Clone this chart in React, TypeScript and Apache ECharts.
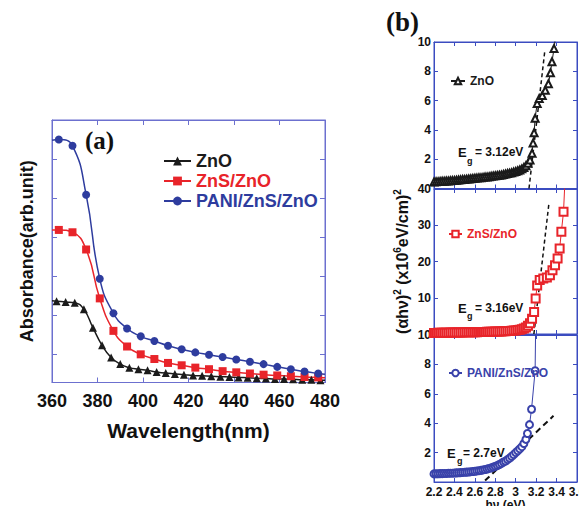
import React, { useEffect, useRef } from 'react';
import * as echarts from 'echarts';

const FONT = '"Liberation Sans", Arial, sans-serif';
const SERIF = '"Liberation Serif", "Times New Roman", serif';

// ---------- Panel (a): absorbance vs wavelength ----------
const wlZnO = [360, 362, 366, 370, 374, 378, 382, 386, 390, 394, 398, 402, 406, 410, 414, 418, 422, 426, 430, 434, 438, 442, 446, 450, 454, 458, 462, 466, 470, 474, 478, 480];
const absZnO = [1.38, 1.37, 1.35, 1.33, 1.16, 0.69, 0.24, -0.07, -0.24, -0.33, -0.37, -0.40, -0.44, -0.47, -0.49, -0.51, -0.53, -0.54, -0.55, -0.56, -0.57, -0.58, -0.59, -0.60, -0.61, -0.62, -0.62, -0.63, -0.64, -0.64, -0.65, -0.65];
const wlShell = [360, 363, 369, 375, 381, 387, 393, 399, 405, 411, 417, 423, 429, 435, 441, 447, 453, 459, 465, 471, 477, 480];
const absZnS = [3.19, 3.19, 3.13, 2.69, 1.44, 0.61, 0.21, 0.01, -0.11, -0.21, -0.27, -0.33, -0.37, -0.42, -0.45, -0.48, -0.51, -0.53, -0.55, -0.57, -0.58, -0.59];
const absPANI = [5.48, 5.50, 5.34, 4.09, 1.94, 1.06, 0.67, 0.47, 0.35, 0.23, 0.14, 0.06, 0.00, -0.06, -0.12, -0.18, -0.24, -0.31, -0.37, -0.43, -0.48, -0.50];
const wlTicks = { min: 360, max: 480, step: 20 };

// ---------- Panel (b): Tauc plots ----------
const evZnO = [2.20, 2.22, 2.24, 2.26, 2.28, 2.30, 2.32, 2.34, 2.36, 2.38, 2.40, 2.42, 2.44, 2.46, 2.48, 2.50, 2.52, 2.54, 2.56, 2.58, 2.60, 2.62, 2.64, 2.66, 2.68, 2.70, 2.72, 2.74, 2.76, 2.78, 2.80, 2.82, 2.84, 2.86, 2.88, 2.90, 2.92, 2.94, 2.96, 2.98, 3.00, 3.02, 3.04, 3.06, 3.08, 3.10, 3.12, 3.14, 3.16, 3.17, 3.18, 3.19, 3.21, 3.23, 3.26, 3.29, 3.32, 3.34, 3.355, 3.375, 3.385];
const taucZnO = [0.45, 0.46, 0.47, 0.48, 0.49, 0.50, 0.51, 0.52, 0.53, 0.54, 0.55, 0.56, 0.58, 0.59, 0.61, 0.62, 0.64, 0.65, 0.67, 0.68, 0.70, 0.71, 0.73, 0.74, 0.76, 0.78, 0.79, 0.81, 0.83, 0.85, 0.87, 0.89, 0.91, 0.93, 0.96, 0.99, 1.02, 1.05, 1.08, 1.12, 1.16, 1.21, 1.27, 1.34, 1.43, 1.55, 1.72, 1.95, 2.4, 3.1, 3.8, 4.8, 5.8, 6.15, 6.35, 6.7, 7.15, 7.9, 8.65, 9.55, 10.1];
const evZnS = [2.20, 2.22, 2.24, 2.26, 2.28, 2.30, 2.32, 2.34, 2.36, 2.38, 2.40, 2.42, 2.44, 2.46, 2.48, 2.50, 2.52, 2.54, 2.56, 2.58, 2.60, 2.62, 2.64, 2.66, 2.68, 2.70, 2.72, 2.74, 2.76, 2.78, 2.80, 2.82, 2.84, 2.86, 2.88, 2.90, 2.92, 2.94, 2.96, 2.98, 3.00, 3.02, 3.04, 3.06, 3.08, 3.10, 3.12, 3.14, 3.16, 3.18, 3.195, 3.21, 3.235, 3.27, 3.305, 3.335, 3.36, 3.385, 3.41, 3.43, 3.447, 3.468, 3.48];
const taucZnS = [0.30, 0.30, 0.32, 0.33, 0.34, 0.35, 0.36, 0.37, 0.38, 0.39, 0.40, 0.41, 0.42, 0.43, 0.44, 0.45, 0.46, 0.47, 0.48, 0.49, 0.50, 0.51, 0.53, 0.54, 0.56, 0.57, 0.59, 0.60, 0.62, 0.64, 0.66, 0.68, 0.70, 0.72, 0.75, 0.78, 0.81, 0.85, 0.89, 0.94, 1.00, 1.08, 1.18, 1.32, 1.50, 1.80, 2.30, 3.00, 4.2, 6.1, 9.8, 13.4, 14.9, 15.3, 15.6, 16.2, 17.6, 19.0, 20.8, 23.6, 28.2, 33.7, 41];
const evPANI = [2.20, 2.22, 2.24, 2.26, 2.28, 2.30, 2.32, 2.34, 2.36, 2.38, 2.40, 2.42, 2.44, 2.46, 2.48, 2.50, 2.52, 2.54, 2.56, 2.58, 2.60, 2.62, 2.64, 2.66, 2.68, 2.70, 2.72, 2.74, 2.76, 2.78, 2.80, 2.82, 2.84, 2.86, 2.88, 2.90, 2.92, 2.94, 2.96, 2.98, 3.00, 3.02, 3.04, 3.06, 3.08, 3.10, 3.115, 3.135, 3.155, 3.19, 3.195];
const taucPANI = [0.55, 0.56, 0.56, 0.57, 0.57, 0.58, 0.58, 0.59, 0.60, 0.60, 0.61, 0.62, 0.63, 0.64, 0.65, 0.66, 0.67, 0.68, 0.70, 0.71, 0.73, 0.75, 0.77, 0.79, 0.82, 0.85, 0.88, 0.92, 0.96, 1.01, 1.06, 1.12, 1.19, 1.27, 1.36, 1.42, 1.52, 1.62, 1.74, 1.86, 2.00, 2.12, 2.25, 2.40, 2.62, 2.9, 3.3, 3.9, 4.95, 7.57, 10.5];
const fitZnO = [[3.13, 0], [3.285, 9.4]];
const fitZnS = [[3.178, 0], [3.325, 36]];
const fitPANI = [[2.7, 0.1], [3.37, 4.5]];
const gapLabels = ['= 3.12eV', '= 3.16eV', '= 2.7eV'];
const seriesNames = ['ZnO', 'ZnS/ZnO', 'PANI/ZnS/ZnO'];

const BLACK = '#1b1b1b';
const RED = '#e8242a';
const BLUE = '#2e3c9e';
const BLUE_B = '#3942aa';
const FRAME_A = '#6c70cf';
const FRAME_B = '#3b4cc0';

function withEnds(xs: number[], ys: number[]) {
  return xs.map((x, i) =>
    i === 0 || i === xs.length - 1 ? { value: [x, ys[i]], symbol: 'none' } : [x, ys[i]]
  );
}
function withLastHidden(xs: number[], ys: number[]) {
  return xs.map((x, i) => (i === xs.length - 1 ? { value: [x, ys[i]], symbol: 'none' } : [x, ys[i]]));
}

function grid(left: number, top: number, width: number, height: number, color: string) {
  return { left, top, width, height, show: true, borderColor: color, borderWidth: 1, containLabel: false, outerBoundsMode: 'none' };
}

function axis(gridIndex: number, position: string, min: number, max: number, color: string, extra: any = {}) {
  return {
    type: 'value',
    gridIndex,
    position,
    min,
    max,
    axisLine: { show: true, onZero: false, lineStyle: { color, width: 1 } },
    axisTick: { show: true, inside: true, length: 4, lineStyle: { color, width: 1 } },
    axisLabel: { show: false },
    splitLine: { show: false },
    ...extra,
  };
}

const bLabel = {
  show: true,
  fontSize: 12,
  fontWeight: 'bold',
  fontFamily: FONT,
  color: '#111',
  margin: 3,
  formatter: (v: number) => (v === 0 ? '' : String(v)),
};

export default function App() {
  const ref = useRef<HTMLDivElement>(null);
  useEffect(() => {
    if (!ref.current) return;
    const chart = echarts.init(ref.current, undefined, { renderer: 'svg' });

    const B_X = { min: 2.2, max: 3.6, interval: 0.2 };
    const gA = grid(52, 120, 273, 262.5, FRAME_A);
    const gB1 = grid(434, 42, 143, 146.5, FRAME_B);
    const gB2 = grid(434, 189, 143, 145, FRAME_B);
    const gB3 = grid(434, 335, 143, 147, FRAME_B);

    // xAxis indices: 0 A-bottom, 1 A-top, 2 B1-bottom, 3 B1-top, 4 B2-bottom, 5 B2-top, 6 B3-bottom, 7 B3-top
    const xAxes = [
      axis(0, 'bottom', wlTicks.min, wlTicks.max, FRAME_A, {
        interval: wlTicks.step,
        axisTick: { show: true, inside: true, length: 5, lineStyle: { color: FRAME_A } },
        axisLabel: { show: true, fontSize: 18, fontWeight: 'bold', fontFamily: FONT, color: '#111', margin: 9 },
        name: 'Wavelength(nm)',
        nameLocation: 'middle',
        nameGap: 37,
        nameTextStyle: { fontSize: 21, fontWeight: 'bold', fontFamily: FONT, color: '#111' },
      }),
      axis(0, 'top', wlTicks.min, wlTicks.max, FRAME_A, {
        interval: wlTicks.step,
        axisTick: { show: true, inside: true, length: 5, lineStyle: { color: FRAME_A } },
      }),
      axis(1, 'bottom', B_X.min, B_X.max, FRAME_B, { interval: B_X.interval }),
      axis(1, 'top', B_X.min, B_X.max, FRAME_B, { interval: B_X.interval }),
      axis(2, 'bottom', B_X.min, B_X.max, FRAME_B, { interval: B_X.interval }),
      axis(2, 'top', B_X.min, B_X.max, FRAME_B, { interval: B_X.interval }),
      axis(3, 'bottom', B_X.min, B_X.max, FRAME_B, {
        interval: B_X.interval,
        axisLabel: { show: true, fontSize: 12, fontWeight: 'bold', fontFamily: FONT, color: '#111', margin: 4 },
        name: 'hν (eV)',
        nameLocation: 'middle',
        nameGap: 13,
        nameTextStyle: { fontSize: 12, fontWeight: 'bold', fontFamily: FONT, color: '#111' },
      }),
      axis(3, 'top', B_X.min, B_X.max, FRAME_B, { interval: B_X.interval }),
    ];

    // yAxis indices: 0 A-left, 1 A-right, 2 B1-left, 3 B1-right, 4 B2-left, 5 B2-right, 6 B3-left, 7 B3-right
    const yAxes = [
      axis(0, 'left', -0.71, 6, FRAME_A, {
        splitNumber: 6,
        axisTick: { show: true, inside: true, length: 5, lineStyle: { color: FRAME_A } },
        name: 'Absorbance(arb.unit)',
        nameLocation: 'middle',
        nameRotate: 90,
        nameGap: 16,
        nameTextStyle: { fontSize: 18, fontWeight: 'bold', fontFamily: FONT, color: '#111' },
      }),
      axis(0, 'right', -0.71, 6, FRAME_A, {
        splitNumber: 6,
        axisTick: { show: true, inside: true, length: 5, lineStyle: { color: FRAME_A } },
      }),
      axis(1, 'left', 0, 10, FRAME_B, { interval: 2, axisLabel: bLabel }),
      axis(1, 'right', 0, 10, FRAME_B, { interval: 2 }),
      axis(2, 'left', 0, 40, FRAME_B, {
        interval: 10,
        axisLabel: bLabel,
        name: '{t|(αhν)}{s|2}{t| (x10}{s|6}{t|eV/cm)}{s|2}',
        nameLocation: 'middle',
        nameRotate: 90,
        nameGap: 22,
        nameTextStyle: {
          rich: {
            t: { fontSize: 16, fontWeight: 'bold', fontFamily: FONT, color: '#111', lineHeight: 20 },
            s: { fontSize: 10, fontWeight: 'bold', fontFamily: FONT, color: '#111', lineHeight: 10, verticalAlign: 'top' },
          },
        },
      }),
      axis(2, 'right', 0, 40, FRAME_B, { interval: 10 }),
      axis(3, 'left', 0, 10, FRAME_B, { interval: 2, axisLabel: bLabel }),
      axis(3, 'right', 0, 10, FRAME_B, { interval: 2 }),
    ];

    const aLine = (name: string, xs: number[], ys: number[], color: string, symbol: string, size: number) => ({
      name,
      type: 'line',
      xAxisIndex: 0,
      yAxisIndex: 0,
      data: withEnds(xs, ys),
      smooth: 0.5,
      symbol,
      symbolSize: size,
      showAllSymbol: true,
      lineStyle: { color, width: 1.5 },
      itemStyle: { color },
    });

    const bLine = (name: string, idx: number, xs: number[], ys: number[], color: string, symbol: string, size: number) => ({
      name,
      type: 'line',
      xAxisIndex: idx,
      yAxisIndex: idx,
      data: withLastHidden(xs, ys),
      symbol,
      symbolSize: size,
      showAllSymbol: true,
      lineStyle: { color, width: 1 },
      itemStyle: { color, borderWidth: 1 },
      clip: true,
    });

    const bFit = (idx: number, pts: number[][], width: number, dash: number[]) => ({
      type: 'line',
      xAxisIndex: idx,
      yAxisIndex: idx,
      data: pts,
      symbol: 'none',
      lineStyle: { color: '#111', width, type: dash },
      silent: true,
      clip: true,
      z: 3,
    });

    const bLegend = (left: number, top: number, width: number, name: string, color: string) => ({
      left,
      top,
      padding: 0,
      itemWidth: width,
      itemHeight: 8,
      selectedMode: false,
      formatter: (n: string) => n.replace(' (b)', ''),
      textStyle: { fontSize: 12, fontWeight: 'bold', fontFamily: FONT, color },
      data: [name],
    });

    const option: any = {
      animation: false,
      backgroundColor: '#fff',
      textStyle: { fontFamily: FONT },
      grid: [gA, gB1, gB2, gB3],
      xAxis: xAxes,
      yAxis: yAxes,
      legend: [
        {
          left: 163,
          top: 152,
          orient: 'vertical',
          padding: 0,
          itemWidth: 27,
          itemHeight: 11,
          itemGap: 2,
          selectedMode: false,
          textStyle: { fontSize: 18, fontWeight: 'bold', fontFamily: FONT },
          data: [
            { name: seriesNames[0], textStyle: { color: BLACK } },
            { name: seriesNames[1], textStyle: { color: RED } },
            { name: seriesNames[2], textStyle: { color: BLUE } },
          ],
        },
        bLegend(450, 75, 14, seriesNames[0] + ' (b)', BLACK),
        bLegend(448, 228, 13, seriesNames[1] + ' (b)', RED),
        bLegend(448, 367, 13, seriesNames[2] + ' (b)', BLUE_B),
      ],
      series: [
        aLine(seriesNames[0], wlZnO, absZnO, BLACK, 'triangle', 8),
        aLine(seriesNames[1], wlShell, absZnS, RED, 'rect', 8),
        aLine(seriesNames[2], wlShell, absPANI, BLUE, 'circle', 8),
        bLine(seriesNames[0] + ' (b)', 2, evZnO, taucZnO, BLACK, 'emptyTriangle', 7),
        bFit(2, fitZnO, 1.5, [4, 3]),
        bLine(seriesNames[1] + ' (b)', 4, evZnS, taucZnS, RED, 'emptyRect', 8),
        bFit(4, fitZnS, 1.5, [4, 3]),
        bLine(seriesNames[2] + ' (b)', 6, evPANI, taucPANI, BLUE_B, 'emptyCircle', 7),
        bFit(6, fitPANI, 2, [6, 4]),
      ],
      graphic: [
        { type: 'text', x: 85, y: 140, style: { text: '(a)', font: `bold 25px ${SERIF}`, fill: '#111', align: 'left', verticalAlign: 'middle' } },
        { type: 'text', x: 386, y: 22, style: { text: '(b)', font: `bold 27px ${SERIF}`, fill: '#111', align: 'left', verticalAlign: 'middle' } },
        ...[
          { ex: 458, ey: 152, gx: 467, gy: 161, tx: 475, ty: 152, t: gapLabels[0] },
          { ex: 458, ey: 308, gx: 467, gy: 316, tx: 475, ty: 308, t: gapLabels[1] },
          { ex: 447, ey: 453, gx: 457, gy: 461, tx: 463, ty: 453, t: gapLabels[2] },
        ].flatMap((p) => [
          { type: 'text', x: p.ex, y: p.ey, style: { text: 'E', font: `bold 13px ${FONT}`, fill: '#111', align: 'left', verticalAlign: 'middle' } },
          { type: 'text', x: p.gx, y: p.gy, style: { text: 'g', font: `bold 9px ${FONT}`, fill: '#111', align: 'left', verticalAlign: 'middle' } },
          { type: 'text', x: p.tx, y: p.ty, style: { text: p.t, font: `bold 12px ${FONT}`, fill: '#111', align: 'left', verticalAlign: 'middle' } },
        ]),
      ],
    };

    chart.setOption(option);
    return () => chart.dispose();
  }, []);

  return <div ref={ref} style={{ position: 'absolute', left: 0, top: 0, width: 579, height: 506 }} />;
}
